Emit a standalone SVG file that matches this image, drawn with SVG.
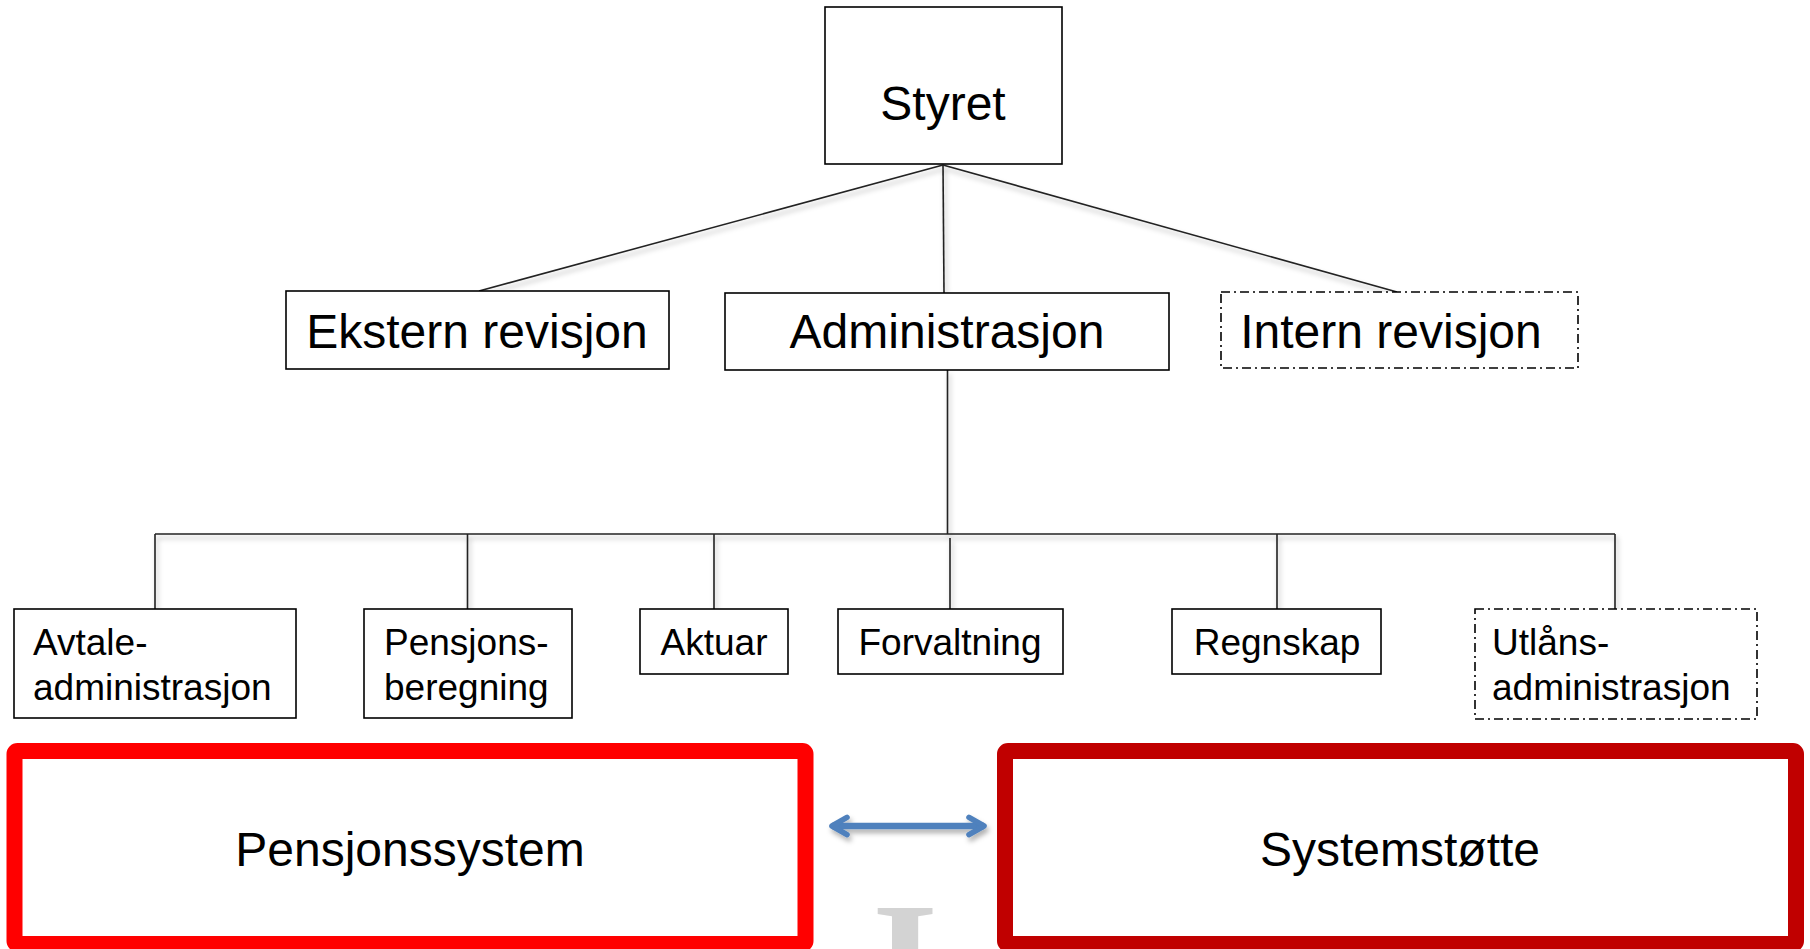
<svg xmlns="http://www.w3.org/2000/svg" width="1810" height="949" viewBox="0 0 1810 949">
<defs>
<style>
.box{fill:#fff;stroke:#000;stroke-width:1.6}
.dash{fill:#fff;stroke:#000;stroke-width:1.6;stroke-dasharray:9 4 2 4}
.t48{font-family:"Liberation Sans",Arial,sans-serif;font-size:48px;fill:#000}
.t37{font-family:"Liberation Sans",Arial,sans-serif;font-size:37px;fill:#000}
.con{stroke:#222;stroke-width:1.6;fill:none}
</style>
<filter id="sh" x="-10%" y="-10%" width="120%" height="130%">
<feDropShadow dx="2" dy="4" stdDeviation="2.5" flood-color="#000" flood-opacity="0.3"/>
</filter>
<marker id="ah" viewBox="0 0 10 10" refX="8.6" refY="5" markerWidth="3.6" markerHeight="3.6" orient="auto-start-reverse" markerUnits="strokeWidth">
<path d="M2.2,1.3 L8.6,5 L2.2,8.7" fill="none" stroke="#4F81BD" stroke-width="2.4" stroke-linecap="round" stroke-linejoin="round"/>
</marker>
</defs>
<rect width="1810" height="949" fill="#fff"/>

<text x="905" y="1019" text-anchor="middle" font-family="Liberation Serif,Times New Roman,serif" font-weight="bold" font-size="170" fill="#D3D3D3">I</text>

<g id="connectors" filter="url(#sh)">
<line class="con" x1="943" y1="165" x2="479" y2="291"/>
<line class="con" x1="943" y1="165" x2="944" y2="293"/>
<line class="con" x1="943" y1="165" x2="1397" y2="292"/>
<line class="con" x1="947.5" y1="370" x2="947.5" y2="534"/>
<line class="con" x1="155" y1="534" x2="1615" y2="534"/>
<line class="con" x1="155" y1="534" x2="155" y2="609"/>
<line class="con" x1="467.5" y1="534" x2="467.5" y2="609"/>
<line class="con" x1="714" y1="534" x2="714" y2="609"/>
<line class="con" x1="950" y1="538" x2="950" y2="609"/>
<line class="con" x1="1277" y1="534" x2="1277" y2="609"/>
<line class="con" x1="1615" y1="534" x2="1615" y2="609"/>
<line x1="832" y1="826" x2="984" y2="826" stroke="#4F81BD" stroke-width="6.5" marker-start="url(#ah)" marker-end="url(#ah)"/>
</g>

<g id="styret">
<rect class="box" x="825" y="7" width="237" height="157"/>
<text class="t48" x="943" y="120" text-anchor="middle" font-size="47">Styret</text>
</g>
<g id="ekstern">
<rect class="box" x="286" y="291" width="383" height="78"/>
<text class="t48" x="477" y="348" text-anchor="middle">Ekstern revisjon</text>
</g>
<g id="administrasjon">
<rect class="box" x="725" y="293" width="444" height="77"/>
<text class="t48" x="947" y="348" text-anchor="middle">Administrasjon</text>
</g>
<g id="intern">
<rect class="dash" x="1221" y="292" width="357" height="76"/>
<text class="t48" x="1391" y="348" text-anchor="middle">Intern revisjon</text>
</g>

<g id="avtale">
<rect class="box" x="14" y="609" width="282" height="109"/>
<text class="t37" x="33" y="655">Avtale-</text>
<text class="t37" x="33" y="700">administrasjon</text>
</g>
<g id="pensjons">
<rect class="box" x="364" y="609" width="208" height="109"/>
<text class="t37" x="384" y="655">Pensjons-</text>
<text class="t37" x="384" y="700">beregning</text>
</g>
<g id="aktuar">
<rect class="box" x="640" y="609" width="148" height="65"/>
<text class="t37" x="714" y="655" text-anchor="middle">Aktuar</text>
</g>
<g id="forvaltning">
<rect class="box" x="838" y="609" width="225" height="65"/>
<text class="t37" x="950" y="655" text-anchor="middle">Forvaltning</text>
</g>
<g id="regnskap">
<rect class="box" x="1172" y="609" width="209" height="65"/>
<text class="t37" x="1277" y="655" text-anchor="middle">Regnskap</text>
</g>
<g id="utlans">
<rect class="dash" x="1475" y="609" width="282" height="110"/>
<text class="t37" x="1492" y="655">Utlåns-</text>
<text class="t37" x="1492" y="700">administrasjon</text>
</g>

<g id="pensjonssystem">
<rect x="14.5" y="751" width="791" height="193" rx="3" fill="none" stroke="#FF0000" stroke-width="16"/>
<text class="t48" x="410" y="866" text-anchor="middle">Pensjonssystem</text>
</g>
<g id="systemstotte">
<rect x="1005" y="751" width="791" height="193" rx="3" fill="none" stroke="#C00000" stroke-width="16"/>
<text class="t48" x="1400" y="866" text-anchor="middle">Systemstøtte</text>
</g>
</svg>
